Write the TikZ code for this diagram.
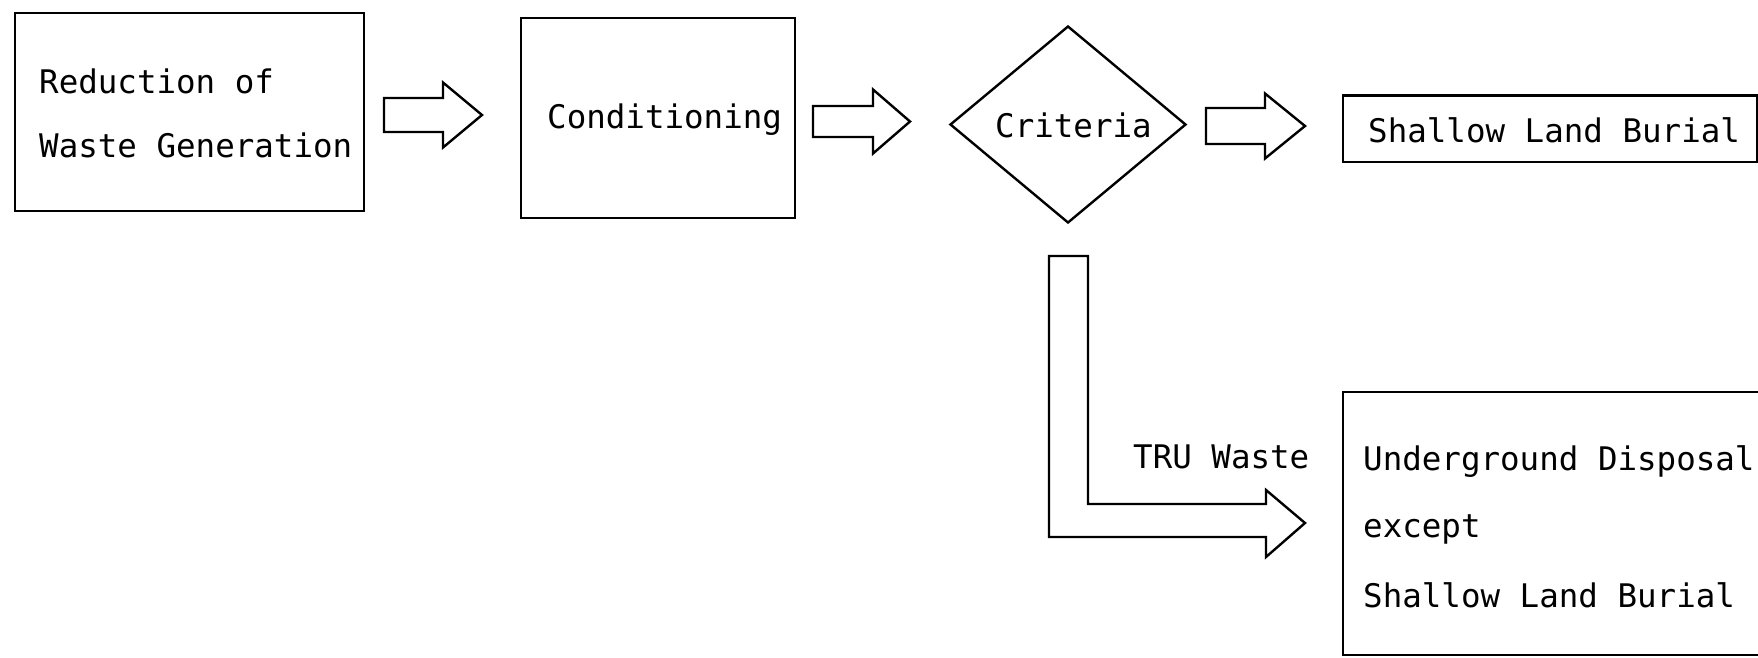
\documentclass[tikz,border=0pt]{standalone}
\usepackage{fontspec}
\newfontfamily\flowfont{DejaVu Sans Mono}
\usetikzlibrary{shapes.geometric}

% hollow block arrow: start x, head-base x, tip x, centre y, shaft half-height, head half-height
\newcommand\blockarrow[6]{%
  \draw[flowline] (#1,#4-#5) -- (#2,#4-#5) -- (#2,#4-#6) -- (#3,#4)
    -- (#2,#4+#6) -- (#2,#4+#5) -- (#1,#4+#5) -- cycle;}

\begin{document}
\begin{tikzpicture}[x=1pt,y=-1pt,
  flowline/.style={draw=black,line width=2.4pt,line join=miter},
  stage/.style={flowline,rectangle,inner sep=0pt},
  decision/.style={flowline,diamond,inner sep=0pt},
  caption/.style={inner sep=0pt,anchor=base west,font=\flowfont\fontsize{32.5}{38}\selectfont}]

\useasboundingbox (0,0) rectangle (1758,657);
\clip (0,0) rectangle (1758,657);

% process boxes
\node[stage,minimum width=349pt,minimum height=198pt] (reduce) at (189.5,112) {};
\node[stage,minimum width=274pt,minimum height=200pt] (cond) at (658,118) {};
\node[decision,minimum width=236pt,minimum height=197pt] (crit) at (1068,124.5) {};
\node[stage,minimum width=414pt,minimum height=66.5pt] (slb) at (1550,128.75) {};
\node[stage,minimum width=432pt,minimum height=263pt] (ugd) at (1559,523.5) {};

% box texts
\node[caption] (t1) at (39,93) {Reduction of};
\node[caption] (t2) at (39,157) {Waste Generation};
\node[caption] (t3) at (547,128) {Conditioning};
\node[caption] (t4) at (995,137) {Criteria};
\node[caption] (t5) at (1368,142) {Shallow Land Burial};
\node[caption] (t6) at (1363,470) {Underground Disposal};
\node[caption] (t7) at (1363,537) {except};
\node[caption] (t8) at (1363,607) {Shallow Land Burial};
\node[caption] (tru) at (1133,468) {TRU Waste};

% block arrows along the main line
\blockarrow{384}{443}{482}{115}{17}{32.5}
\blockarrow{813}{873}{910}{121.5}{15.5}{32}
\blockarrow{1206}{1265}{1305}{126}{18}{32.5}

% bent arrow from the criteria down to underground disposal
\draw[flowline] (1049,256) -- (1088,256) -- (1088,504) -- (1266,504) -- (1266,490)
  -- (1305,523) -- (1266,557) -- (1266,537) -- (1049,537) -- cycle;

\end{tikzpicture}
\end{document}
